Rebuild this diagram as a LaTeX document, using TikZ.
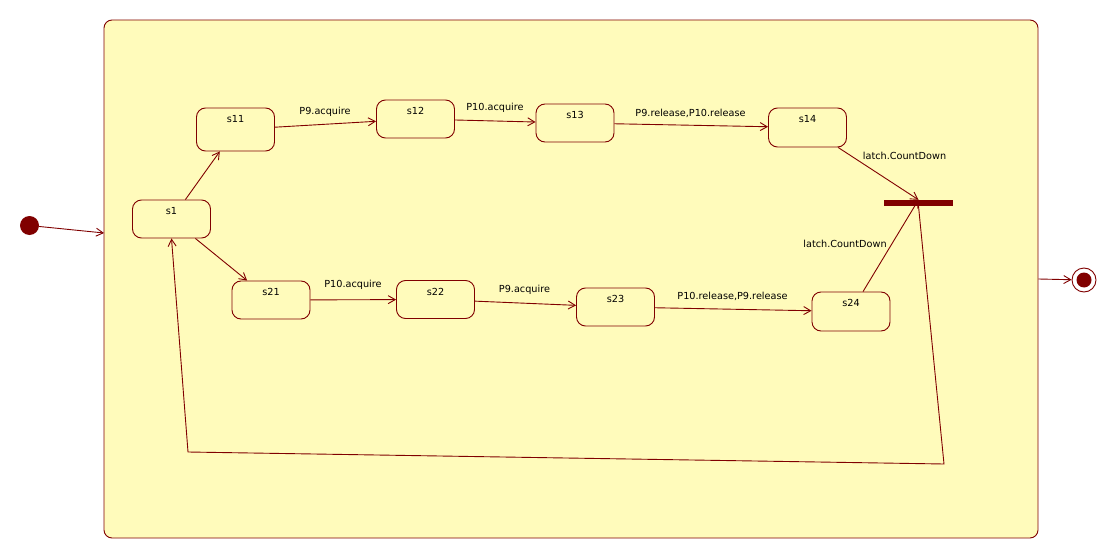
\documentclass[tikz,border=0pt]{standalone}
\usepackage{fontspec}
\setmainfont{DejaVu Sans}
\usetikzlibrary{arrows.meta}
\definecolor{umlfill}{RGB}{255,251,187}
\definecolor{umlline}{RGB}{128,0,0}
\begin{document}
\begin{tikzpicture}[x=1pt,y=-1pt,
  every node/.style={font=\fontsize{9.7}{11}\selectfont},
  statebox/.style={draw=umlline, fill=umlfill, rounded corners=9pt, minimum width=78pt, minimum height=38pt, inner sep=0pt, line width=0.9pt},
  stname/.style={anchor=center, yshift=-11.5pt, inner sep=0pt, text=black},
  edge/.style={draw=umlline, line width=0.9pt, -{Straight Barb[length=7pt,width=8pt]}},
  elabel/.style={inner sep=0pt, text=black},
]
\fill[white] (0,0) rectangle (1117,559);
\useasboundingbox (0,0) rectangle (1117,559);

% composite state
\node[draw=umlline, fill=umlfill, rounded corners=8pt, line width=0.9pt, minimum width=934pt, minimum height=518pt, inner sep=0pt] (outer) at (571,279) {};

% pseudo states
\node[circle, fill=umlline, minimum size=19pt, inner sep=0pt] (init) at (29.5,225.5) {};
\coordinate (entry) at (104,233);
\node[circle, draw=umlline, fill=white, line width=0.9pt, minimum size=24pt, inner sep=0pt] (final) at (1084,280) {};
\node[circle, fill=umlline, minimum size=15pt, inner sep=0pt] (finaldot) at (final.center) {};
\node[fill=umlline, minimum width=69pt, minimum height=6pt, inner sep=0pt] (bar) at (918.5,203) {};

% states
\node[statebox, label={[stname]north:s1}] (s1) at (171.5,219) {};
\node[statebox, minimum height=43pt, label={[stname]north:s11}] (s11) at (235.5,129.5) {};
\node[statebox, label={[stname]north:s12}] (s12) at (415.5,119) {};
\node[statebox, label={[stname]north:s13}] (s13) at (575,123) {};
\node[statebox, minimum height=39pt, label={[stname]north:s14}] (s14) at (807.5,127.5) {};
\node[statebox, label={[stname]north:s21}] (s21) at (271,300) {};
\node[statebox, label={[stname]north:s22}] (s22) at (435.5,299.5) {};
\node[statebox, label={[stname]north:s23}] (s23) at (615.5,307) {};
\node[statebox, minimum height=39pt, label={[stname]north:s24}] (s24) at (851,311.5) {};

% transitions
\draw[edge] (init) -- (entry);
\draw[edge] (outer.east) -- (final);
\draw[edge] (s1) -- (s11);
\draw[edge] (s1) -- (s21);
\draw[edge] (s11) -- (s12);
\draw[edge] (s12) -- (s13);
\draw[edge] (s13) -- (s14);
\draw[edge] (s21) -- (s22);
\draw[edge] (s22) -- (s23);
\draw[edge] (s23) -- (s24);
\draw[edge] (s14) -- (bar.north);
\draw[edge] (s24) -- (bar.north);
\coordinate (c1) at (944,464);
\coordinate (c2) at (188,452);
\draw[edge] (bar.south) -- (c1) -- (c2) -- (s1.south);

% labels
\node[elabel] (l1) at (325,111.5) {P9.acquire};
\node[elabel] (l2) at (495,108) {P10.acquire};
\node[elabel] (l3) at (690.5,113) {P9.release,P10.release};
\node[elabel] (l4) at (353,285) {P10.acquire};
\node[elabel] (l5) at (524.5,290) {P9.acquire};
\node[elabel] (l6) at (732.5,296) {P10.release,P9.release};
\node[elabel] (l7) at (904.5,156) {latch.CountDown};
\node[elabel] (l8) at (845,244) {latch.CountDown};
\end{tikzpicture}
\end{document}
